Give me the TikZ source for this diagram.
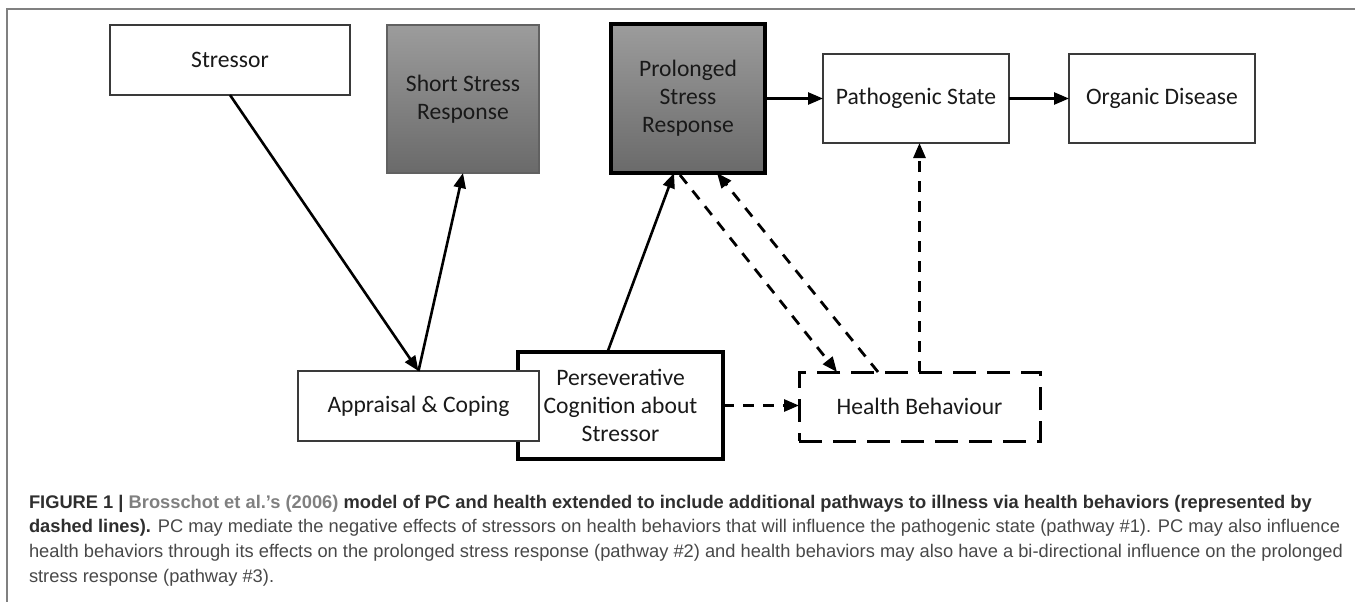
\documentclass[tikz,border=0pt]{standalone}
\usepackage{fontspec}
\setmainfont{Carlito}
\newfontfamily\capfont{Liberation Sans}
\usetikzlibrary{arrows.meta,calc}
\definecolor{capdark}{HTML}{2E2E2E}
\definecolor{capgray}{HTML}{808080}
\definecolor{captext}{HTML}{484848}
\definecolor{boxline}{HTML}{3A3A3A}
\definecolor{shadetop}{HTML}{9C9C9C}
\definecolor{shadebot}{HTML}{6A6A6A}
\begin{document}
\begin{tikzpicture}[x=1pt,y=-1pt,
  every node/.style={inner sep=0pt, outer sep=0pt},
  boxbase/.style={rectangle, align=center, font=\fontsize{23.6}{28}\selectfont, text=black!90},
  plainbox/.style={boxbase, draw=boxline, line width=1.4pt, fill=white},
  greybox/.style={boxbase, draw=boxline!80, line width=1.2pt, top color=shadetop, bottom color=shadebot},
  thickgrey/.style={boxbase, draw=black, line width=3.5pt, top color=shadetop, bottom color=shadebot},
  thickbox/.style={boxbase, draw=black, line width=3.5pt, fill=white},
  dashbox/.style={boxbase, draw=black, line width=3pt, dash pattern=on 23pt off 11pt, fill=white},
  solidarrow/.style={line width=2.6pt, -{Triangle[length=15pt,width=12pt]}},
  dasharrow/.style={line width=2.8pt, dash pattern=on 11pt off 9pt, -{Triangle[length=15pt,width=12pt]}},
  frameline/.style={draw=capgray, line width=1.4pt}
]
\useasboundingbox (0,0) rectangle (1355,602);
% figure frame (left and top rules)
\draw[frameline] (7,602) -- (7,9) -- (1355,9);

% boxes
\node[plainbox, minimum width=240pt, minimum height=70pt] (stressor) at (230,60) {Stressor};
\node[greybox, minimum width=152pt, minimum height=148pt] (short) at (463,99) {Short Stress\\Response};
\node[thickgrey, minimum width=154pt, minimum height=149pt] (prolonged) at (688,98.5) {Prolonged\\Stress\\Response};
\node[plainbox, minimum width=186pt, minimum height=89pt] (patho) at (916,98.5) {Pathogenic State};
\node[plainbox, minimum width=186pt, minimum height=89pt] (organic) at (1162,98.5) {Organic Disease};
\node[thickbox, minimum width=205pt, minimum height=107pt] (persev) at (620.5,405.5) {Perseverative\\Cognition about\\Stressor};
\node[plainbox, minimum width=241pt, minimum height=70pt] (appraisal) at (418.5,406) {Appraisal \& Coping};
\node[dashbox, minimum width=241pt, minimum height=69pt] (health) at (919.5,406.5) {Health Behaviour};

% solid connectors
\draw[solidarrow] (stressor.south) -- (appraisal.north);
\draw[solidarrow] (appraisal.north) -- (short.south);
\draw[solidarrow] ($(persev.north)+(-13,0)$) -- ($(prolonged.south)+(-14,0)$);
\draw[solidarrow] (prolonged.east) -- (patho.west);
\draw[solidarrow] (patho.east) -- (organic.west);

% dashed connectors
\draw[dasharrow] (persev.east) -- (persev.east -| health.west);
\draw[dasharrow] ($(prolonged.south)+(-8,2)$) -- ($(health.north west)+(38,0)$);
\draw[dasharrow] ($(health.north west)+(79,0)$) -- ($(prolonged.south)+(29,0)$);
\draw[dasharrow] (health.north) -- (health.north |- patho.south);

% caption
\node[anchor=north west, align=left, font=\capfont\fontsize{18.3}{24.7}\selectfont, text=captext] (caption) at (29,495)
{\textbf{\color{capdark}FIGURE 1 | \color{capgray}Brosschot et al.’s (2006) \color{capdark}model of PC and health extended to include additional pathways to illness via health behaviors (represented by}\\
\textbf{\color{capdark}dashed lines).} PC may mediate the negative effects of stressors on health behaviors that will influence the pathogenic state (pathway \#1). PC may also influence\\
health behaviors through its effects on the prolonged stress response (pathway \#2) and health behaviors may also have a bi-directional influence on the prolonged\\
stress response (pathway \#3).};
\end{tikzpicture}
\end{document}
